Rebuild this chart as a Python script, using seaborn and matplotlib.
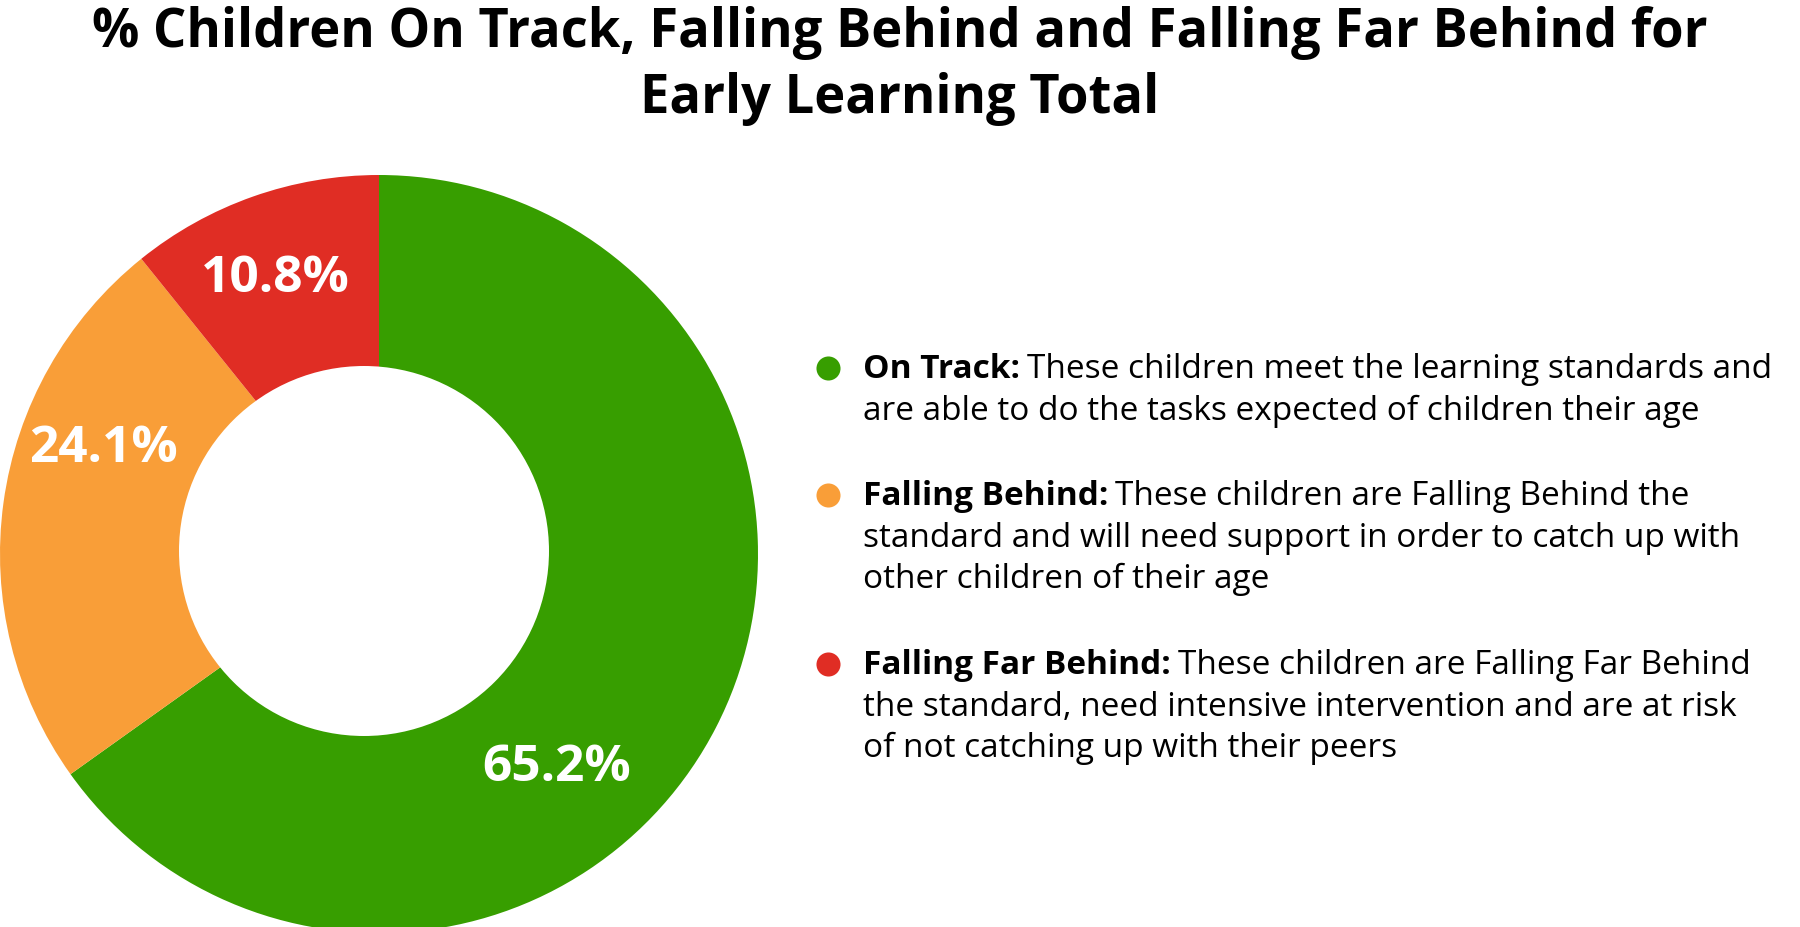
import matplotlib
matplotlib.use("Agg")
import numpy as np
import matplotlib.pyplot as plt
import seaborn as sns

# data
categories = ["On Track", "Falling Behind", "Falling Far Behind"]
percentages = [65.2, 24.1, 10.8]
colors = ["#379E00", "#F99E38", "#E02D24"]
descriptions = [
    ["These children meet the learning standards and",
     "are able to do the tasks expected of children their age"],
    ["These children are Falling Behind the",
     "standard and will need support in order to catch up with",
     "other children of their age"],
    ["These children are Falling Far Behind",
     "the standard, need intensive intervention and are at risk",
     "of not catching up with their peers"],
]
title_lines = ["% Children On Track, Falling Behind and Falling Far Behind for",
               "Early Learning Total"]

# where the percentage labels sit inside the ring (angle in degrees, radius)
label_spots = [(-50.1, 0.732), (158.9, 0.778), (110.6, 0.778)]

sns.set_theme(style="white")
plt.rcParams["font.family"] = ["Open Sans", "DejaVu Sans"]

W, H = 1800, 928
fig = plt.figure(figsize=(W / 100, H / 100), dpi=100)
fig.patch.set_facecolor("white")

# donut: full pie, then the white hole (sits a little left of centre in the original)
ax = fig.add_axes([0, -6 / H, 758 / W, 758 / H])
ax.pie(percentages, colors=colors, startangle=90, counterclock=False,
       radius=1, wedgeprops=dict(linewidth=0))
ax.add_patch(plt.Circle((-15 / 379, 3 / 379), 185 / 379, color="white", lw=0))
for pct, (ang, r) in zip(percentages, label_spots):
    a = np.deg2rad(ang)
    ax.text(r * np.cos(a), r * np.sin(a), f"{pct}%", color="white",
            fontsize=37, fontweight="bold", ha="center", va="center")
ax.set_xlim(-1, 1)
ax.set_ylim(-1, 1)
ax.set_aspect("equal")
ax.axis("off")

# overlay in pixel units (y measured from the top) for title and legend
lax = fig.add_axes([0, 0, 1, 1])
lax.set_xlim(0, W)
lax.set_ylim(H, 0)
lax.axis("off")
lax.patch.set_alpha(0)

lax.text(W / 2, 47, title_lines[0], fontsize=37.8, fontweight="bold",
         ha="center", va="baseline", color="black")
lax.text(W / 2, 113, title_lines[1], fontsize=37.8, fontweight="bold",
         ha="center", va="baseline", color="black")

# legend with bold name followed by the description
line_gap = 41.7
item_starts = [378, 505, 674]
text_x = 863
fig.canvas.draw()
renderer = fig.canvas.get_renderer()
for name, lines, col, y0 in zip(categories, descriptions, colors, item_starts):
    lax.scatter([828], [y0 - 9], s=300, color=col, linewidths=0, zorder=3)
    head = lax.text(text_x, y0, name + ":", fontsize=24, fontweight="bold",
                    ha="left", va="baseline", color="black")
    bb = head.get_window_extent(renderer).transformed(lax.transData.inverted())
    lax.text(bb.x1 + 7, y0, lines[0], fontsize=24, ha="left",
             va="baseline", color="black")
    for i, line in enumerate(lines[1:], start=1):
        lax.text(text_x, y0 + i * line_gap, line, fontsize=24, ha="left",
                 va="baseline", color="black")

fig.savefig("out.png", dpi=100, facecolor="white")
